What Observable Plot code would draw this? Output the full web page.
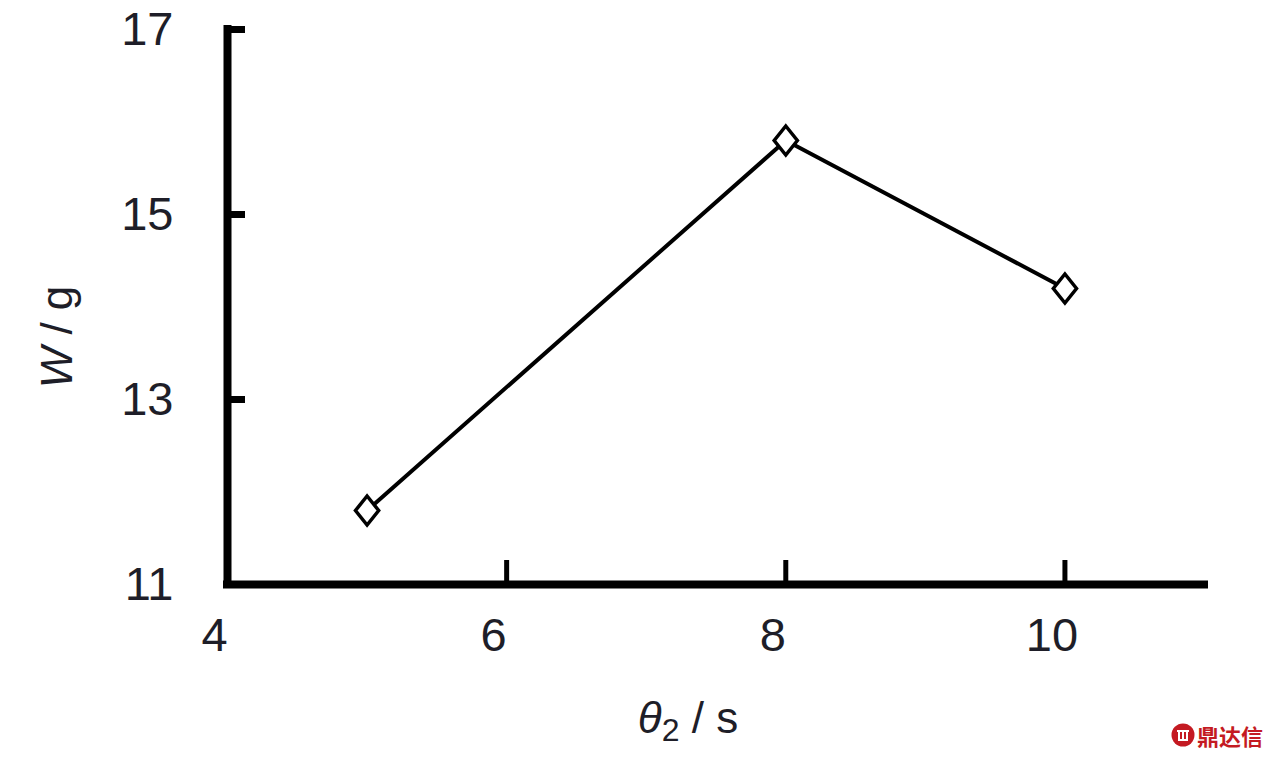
<!DOCTYPE html>
<html><head><meta charset="utf-8">
<script src="https://cdn.jsdelivr.net/npm/d3@7"></script>
<script src="https://cdn.jsdelivr.net/npm/@observablehq/plot@0.6"></script>
<style>
body{margin:0;background:#fff;}
#wrap{position:relative;width:1275px;height:760px;}
#wm{position:absolute;left:1171px;top:720px;display:flex;align-items:center;gap:2px;color:#c41a22;font-family:"Noto Sans CJK SC",sans-serif;font-weight:bold;font-size:22px;line-height:30px;}
</style>
</head><body><div id="wrap"><div id="chart"></div>
<div id="wm"><svg width="24" height="24" viewBox="0 0 24 24"><circle cx="12" cy="12" r="11.5" fill="#c41a22"/><path d="M6 8h12M8 8v9M16 8v9M12 8v10M7 17h10" stroke="#fff" stroke-width="2" fill="none"/></svg><span>鼎达信</span></div></div>
<script>
// data
const times = [5, 8, 10];
const weights = [11.8, 15.8, 14.2];
const xTicks = [4, 6, 8, 10];
const yTicks = [11, 13, 15, 17];
const xLabel = "θ2 / s";
const yLabel = "W / g";

const data = times.map((t, i) => ({t, w: weights[i]}));

const diamond = {
  draw(ctx, size) {
    const r = Math.sqrt(size / Math.PI);
    const w = r * 0.8, h = r;
    ctx.moveTo(0, -h); ctx.lineTo(w, 0); ctx.lineTo(0, h); ctx.lineTo(-w, 0); ctx.closePath();
  }
};

const font = "'Liberation Sans Narrow', 'Liberation Sans', Arial, sans-serif";
const W = 1275, H = 760, mL = 227, mR = 71, mT = 29, mB = 176;
const plotW = W - mL - mR, plotH = H - mT - mB;
const ink = "#1e1e28";

const chart = Plot.plot({
  width: W, height: H,
  marginLeft: mL, marginRight: mR, marginTop: mT, marginBottom: mB,
  x: {domain: [4, 11], axis: null},
  y: {domain: [11, 17], axis: null},
  style: {fontFamily: font, background: "#fff", color: ink},
  marks: [
    Plot.tickY(yTicks, {y: d => d, insetRight: plotW - 18, strokeWidth: 7, stroke: "#000"}),
    Plot.tickX(xTicks, {x: d => d, insetTop: plotH - 24, strokeWidth: 5, stroke: "#000"}),
    Plot.ruleX([4], {y1: 11, y2: 17, strokeWidth: 8, stroke: "#000", strokeLinecap: "square"}),
    Plot.ruleY([11], {x1: 4, x2: 11, strokeWidth: 8, stroke: "#000", strokeLinecap: "square"}),
    Plot.line(data, {x: "t", y: "w", strokeWidth: 4, stroke: "#000"}),
    Plot.dot(data, {x: "t", y: "w", symbol: diamond, r: 14.5, fill: "#fff", stroke: "#000", strokeWidth: 3.5}),
    Plot.text(yTicks, {x: 4, y: d => d, text: d => String(d), textAnchor: "end", dx: -54, fontSize: 47, fill: ink}),
    Plot.text(xTicks, {x: d => d, y: 11, text: d => String(d), dx: -13, dy: 51, fontSize: 47, fill: ink}),
    Plot.text([xLabel], {frameAnchor: "bottom", text: d => d, textAnchor: "middle", lineAnchor: "middle", dx: -28, dy: 134, fontSize: 44, fill: ink, className: "xlab"}),
    Plot.text([yLabel], {frameAnchor: "left", text: d => d, textAnchor: "middle", lineAnchor: "middle", dx: -170, dy: 30, rotate: -90, fontSize: 44, fill: ink, className: "ylab"})
  ]
});
document.getElementById("chart").appendChild(chart);

// rich formatting of axis titles (italic symbols, subscript)
const xt = d3.select(chart).select(".xlab text");
xt.text(null);
xt.append("tspan").attr("font-style", "italic").text("θ");
xt.append("tspan").attr("font-size", 32).attr("dy", 8).text("2");
xt.append("tspan").attr("dy", -8).text(" / s");
const yt = d3.select(chart).select(".ylab text");
yt.text(null);
yt.append("tspan").attr("font-style", "italic").text("W");
yt.append("tspan").text(" / g");
</script>
</body></html>
